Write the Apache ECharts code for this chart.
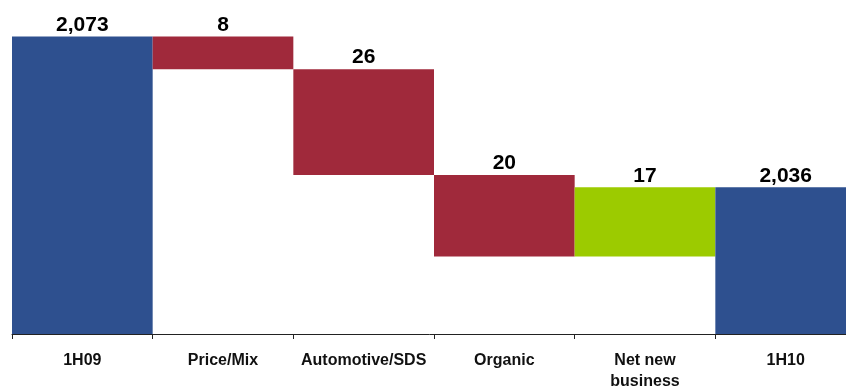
<!DOCTYPE html>
<html>
<head>
<meta charset="utf-8">
<style>
  html, body { margin: 0; padding: 0; background: #ffffff; }
  #chart { width: 846px; height: 388px; }
</style>
<script src="https://cdn.jsdelivr.net/npm/echarts@6/dist/echarts.min.js"></script>
</head>
<body>
<div id="chart"></div>
<script>
// Sales bridge, 1H09 to 1H10
const categories = ['1H09', 'Price/Mix', 'Automotive/SDS', 'Organic', 'Net new\nbusiness', '1H10'];
const steps = [2073, -8, -26, -20, 17, 2036];
const isTotal = [true, false, false, false, false, true];

const axisMin = 2000;
const axisMax = 2080;

const colorTotal = '#2E508F';
const colorDown = '#A0293B';
const colorUp = '#9CCB00';

// Build invisible offsets and visible segments for the waterfall
const offsets = [];
const segments = [];
let running = 0;
steps.forEach((v, i) => {
  if (isTotal[i]) {
    offsets.push(0);
    segments.push({ value: v, itemStyle: { color: colorTotal } });
    running = v;
  } else if (v < 0) {
    offsets.push(running + v);
    segments.push({ value: -v, itemStyle: { color: colorDown } });
    running += v;
  } else {
    offsets.push(running);
    segments.push({ value: v, itemStyle: { color: colorUp } });
    running += v;
  }
});

const fmt = n => Math.abs(n).toLocaleString('en-US');

const chart = echarts.init(document.getElementById('chart'), null, { renderer: 'canvas' });
chart.setOption({
  animation: false,
  backgroundColor: '#ffffff',
  textStyle: { fontFamily: '"Liberation Sans", Arial, sans-serif' },
  // the last column runs past the right edge of the page
  grid: { left: 12, top: 8, right: -10, bottom: 54, containLabel: false, outerBoundsMode: 'none' },
  xAxis: {
    type: 'category',
    data: categories,
    boundaryGap: true,
    axisLine: { show: true, lineStyle: { color: '#222222', width: 1 } },
    axisTick: { show: true, length: 5, alignWithLabel: false, lineStyle: { color: '#222222', width: 1 } },
    axisLabel: {
      interval: 0,
      margin: 16,
      color: '#111111',
      fontWeight: 'bold',
      fontSize: 16,
      lineHeight: 21,
      fontFamily: '"Liberation Sans", Arial, sans-serif'
    },
    splitLine: { show: false }
  },
  yAxis: {
    type: 'value',
    min: axisMin,
    max: axisMax,
    show: false,
    splitLine: { show: false }
  },
  series: [
    {
      name: 'offset',
      type: 'bar',
      stack: 'bridge',
      data: offsets,
      barCategoryGap: '0%',
      itemStyle: { color: 'rgba(0,0,0,0)' },
      emphasis: { disabled: true },
      silent: true
    },
    {
      name: 'change',
      type: 'bar',
      stack: 'bridge',
      data: segments,
      barCategoryGap: '0%',
      label: {
        show: true,
        position: 'top',
        distance: 1,
        color: '#000000',
        fontWeight: 'bold',
        fontSize: 21,
        fontFamily: '"Liberation Sans", Arial, sans-serif',
        formatter: p => fmt(steps[p.dataIndex])
      }
    }
  ]
});
</script>
</body>
</html>
